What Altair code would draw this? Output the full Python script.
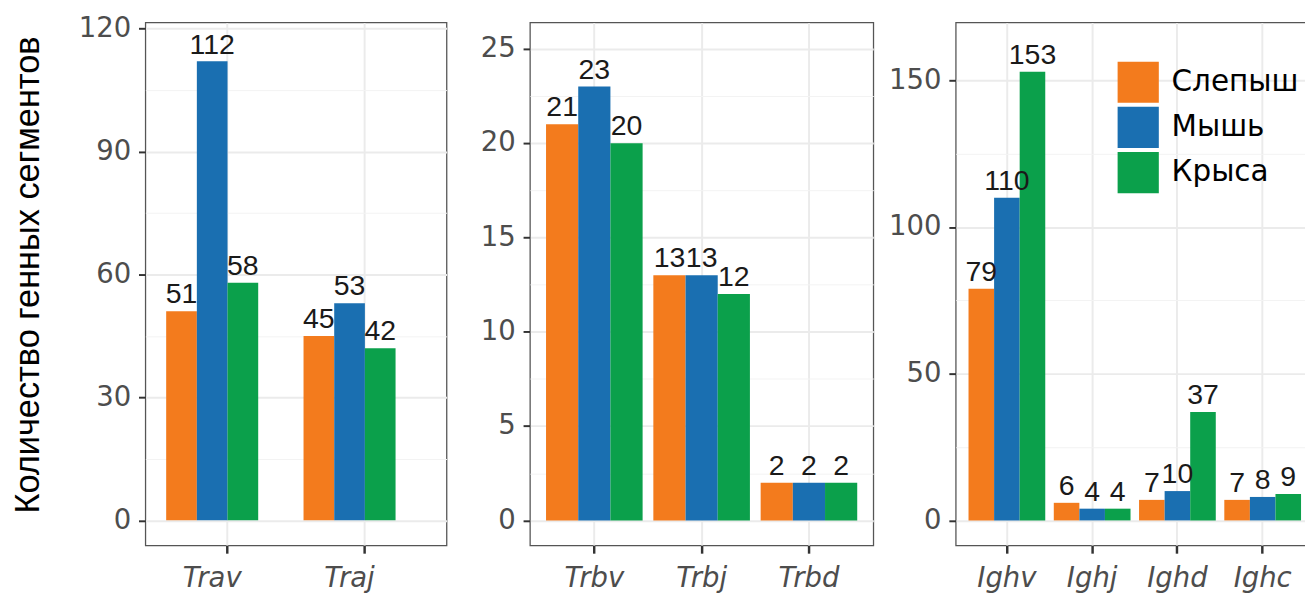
import altair as alt
import pandas as pd

# ---- data ----
species = ["Слепыш", "Мышь", "Крыса"]
colors = ["#F37B1D", "#1A6FB1", "#0BA04B"]

genes_tra = ["Trav", "Traj"]
slepysh_tra = [51, 45]
mouse_tra = [112, 53]
rat_tra = [58, 42]

genes_trb = ["Trbv", "Trbj", "Trbd"]
slepysh_trb = [21, 13, 2]
mouse_trb = [23, 13, 2]
rat_trb = [20, 12, 2]

genes_igh = ["Ighv", "Ighj", "Ighd", "Ighc"]
slepysh_igh = [79, 6, 7, 7]
mouse_igh = [110, 4, 10, 8]
rat_igh = [153, 4, 37, 9]

ticks_tra_major = [0, 30, 60, 90, 120]
ticks_tra_minor = [15, 45, 75, 105]
ticks_trb_major = [0, 5, 10, 15, 20, 25]
ticks_trb_minor = [2.5, 7.5, 12.5, 17.5, 22.5]
ticks_igh_major = [0, 50, 100, 150]
ticks_igh_minor = [25, 75, 125]

y_title = "Количество генных сегментов"

FONT = "DejaVu Sans"
ARIAL = "Liberation Sans"
H = 533


def make_df(genes, s, m, r):
    rows = []
    for i, g in enumerate(genes):
        for sp, v in zip(species, [s[i], m[i], r[i]]):
            rows.append({"gene": g, "species": sp, "value": v})
    return pd.DataFrame(rows)


def panel(df, genes, width, domain, major, minor, xscale, band_pos,
          title=None, legend=None, title_padding=0):
    test = f"indexof({major}, datum.value) >= 0"
    yaxis_kwargs = dict(
        values=sorted(major + minor),
        format="d",
        labelExpr=f"{test} ? datum.label : ''",
        labelFontSize=28,
        labelColor="#4D4D4D",
        labelPadding=8,
        labelFont=FONT,
        tickSize=7,
        tickWidth=2,
        tickColor="#333333",
        tickOpacity={"condition": {"test": test, "value": 1}, "value": 0},
        grid=True,
        gridColor={"condition": {"test": test, "value": "#EBEBEB"}, "value": "#F3F3F3"},
        gridWidth={"condition": {"test": test, "value": 2}, "value": 1},
        domain=False,
    )
    if title is not None:
        yaxis_kwargs.update(
            title=title,
            titleFontSize=35,
            titleFontWeight="normal",
            titleColor="#000000",
            titleFont=ARIAL,
            titleBaseline="alphabetic",
            titlePadding=title_padding,
            titleY=257,
        )
    else:
        yaxis_kwargs.update(title=None)

    x = alt.X(
        "gene:N",
        sort=genes,
        scale=alt.Scale(domain=genes, **xscale),
        axis=alt.Axis(
            title=None,
            labelAngle=0,
            labelFontSize=28,
            labelFontStyle="italic",
            labelColor="#4D4D4D",
            labelFont=FONT,
            labelPadding=12,
            tickSize=8,
            tickWidth=2.5,
            tickColor="#333333",
            bandPosition=band_pos,
            grid=True,
            gridColor="#EBEBEB",
            gridWidth=2,
            domain=False,
        ),
    )
    xoff = alt.XOffset("species:N", sort=species,
                       scale=alt.Scale(domain=species, paddingInner=0, paddingOuter=0))
    y = alt.Y("value:Q", scale=alt.Scale(domain=domain, nice=False, zero=False),
              axis=alt.Axis(**yaxis_kwargs))
    color = alt.Color("species:N", sort=species,
                      scale=alt.Scale(domain=species, range=colors),
                      legend=legend)

    base = alt.Chart(df).encode(x=x, xOffset=xoff, y=y)
    bars = base.mark_bar(strokeWidth=0).encode(color=color)
    labels = base.mark_text(
        baseline="alphabetic", dy=-8, fontSize=29, color="#1A1A1A", font=ARIAL
    ).encode(text="value:Q")
    return alt.layer(bars, labels).properties(width=width, height=H)


df_tra = make_df(genes_tra, slepysh_tra, mouse_tra, rat_tra)
df_trb = make_df(genes_trb, slepysh_trb, mouse_trb, rat_trb)
df_igh = make_df(genes_igh, slepysh_igh, mouse_igh, rat_igh)

legend3 = alt.Legend(
    orient="none", legendX=165, legendY=40, title=None,
    symbolType="square", symbolSize=1764, symbolStrokeWidth=0,
    labelFontSize=30, labelColor="#000000", labelFont=FONT,
    rowPadding=4, labelOffset=13, padding=0, labelLimit=300,
)

p1 = panel(df_tra, genes_tra, 307, [-6.1, 121.5], ticks_tra_major, ticks_tra_minor,
           dict(paddingInner=0.33, paddingOuter=0.2614, align=0.29), 0.66,
           title=y_title, legend=None, title_padding=40)
p2 = panel(df_trb, genes_trb, 350, [-1.32, 26.4], ticks_trb_major, ticks_trb_minor,
           dict(paddingInner=0.1, paddingOuter=0.15), 0.5, legend=None)
p3 = panel(df_igh, genes_igh, 365, [-8.5, 169.8], ticks_igh_major, ticks_igh_minor,
           dict(paddingInner=0.1, paddingOuter=0.15), 0.5, legend=legend3)

res_scale = dict(x="independent", y="independent", color="independent", xOffset="independent")

inner = (
    alt.hconcat(p1, p2, spacing=32)
    .resolve_scale(**res_scale)
    .resolve_legend(color="independent")
)

chart = (
    alt.hconcat(inner, p3, spacing=13)
    .resolve_scale(**res_scale)
    .resolve_legend(color="independent")
    .properties(padding={"left": 2, "top": 0, "right": -10, "bottom": 0})
    .configure(font=FONT)
    .configure_view(stroke="#555555", strokeWidth=1.3, fill="white")
)

chart.save("out.html", embed_options={"renderer": "svg", "actions": False})
